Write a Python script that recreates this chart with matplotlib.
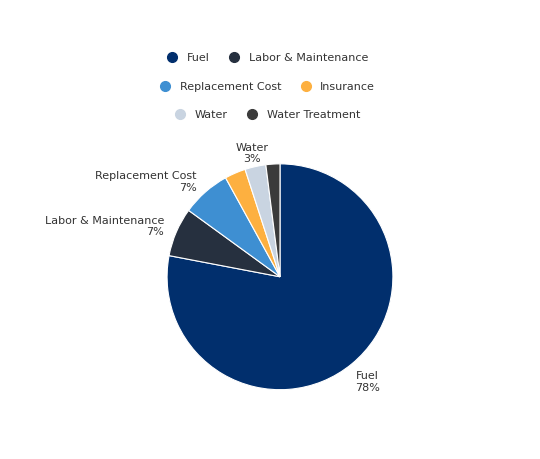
import matplotlib
matplotlib.use("Agg")
import matplotlib.pyplot as plt
from matplotlib.lines import Line2D

categories = ["Fuel", "Labor & Maintenance", "Replacement Cost", "Insurance", "Water", "Water Treatment"]
values = [78, 7, 7, 3, 3, 2]
show_label = [True, True, True, False, True, False]
colors = ["#012f6d", "#26303f", "#3e8fd2", "#fdb040", "#c9d4e1", "#3b3b3b"]

fig = plt.figure(figsize=(5.4, 4.59), dpi=100)
ax = fig.add_axes([0.309, 0.151, 0.419, 0.492])
labels = [f"{c}\n{v}%" if s else "" for c, v, s in zip(categories, values, show_label)]
wedges, texts = ax.pie(values, colors=colors, startangle=90, counterclock=False,
                       labels=labels, labeldistance=1.12,
                       wedgeprops=dict(linewidth=0.8, edgecolor="white"),
                       textprops=dict(fontsize=8, color="#333333"))
for t, c in zip(texts, categories):
    t.set_multialignment("center")
    if c == "Water":
        t.set_ha("center")
    if c == "Fuel":
        t.set_ha("center")
        x, y = t.get_position()
        t.set_position((x * 1.08, y * 1.08))
    if c in ("Labor & Maintenance", "Replacement Cost"):
        t.set_multialignment("right")
ax.set_xlim(-1, 1)
ax.set_ylim(-1, 1)
ax.set_aspect("equal")

def handle(col):
    return Line2D([], [], marker="o", linestyle="", markersize=7, markerfacecolor=col, markeredgecolor=col)

rows = [(0, 1), (2, 3), (4, 5)]
ys = [0.873, 0.811, 0.749]
for (i, j), y in zip(rows, ys):
    fig.legend([handle(colors[i]), handle(colors[j])], [categories[i], categories[j]],
               loc="center", bbox_to_anchor=(0.49, y), ncol=2, frameon=False,
               fontsize=8, handletextpad=0.3, columnspacing=1.2, labelcolor="#333333")

fig.savefig("out.png", dpi=100, facecolor="white")
